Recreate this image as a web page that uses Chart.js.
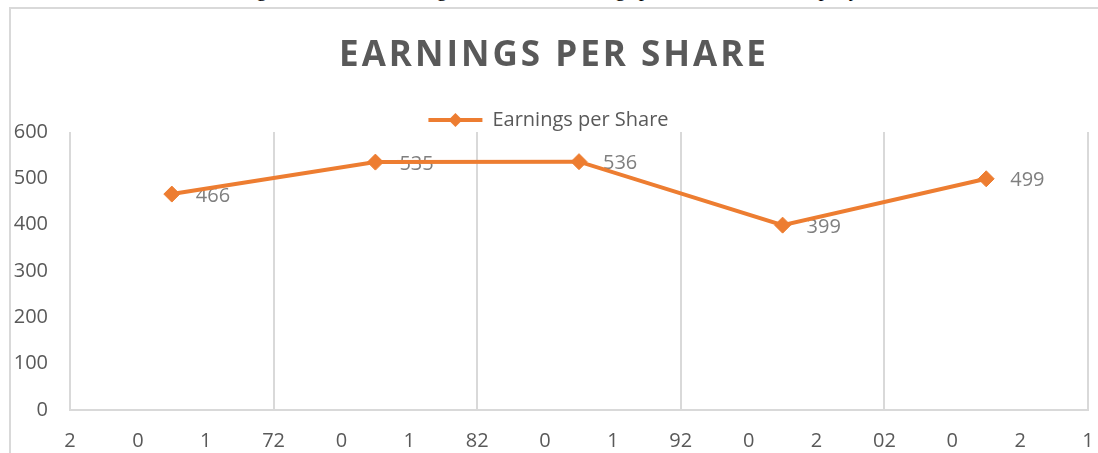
<!DOCTYPE html>
<html>
<head>
<meta charset="utf-8">
<script src="https://cdn.jsdelivr.net/npm/chart.js@4.4.1/dist/chart.umd.min.js"></script>
<style>
  html, body { margin: 0; padding: 0; background: #fff; overflow: hidden; }
  #wrap { position: relative; width: 1098px; height: 453px; }
  #caption { position: absolute; top: -23px; left: 0; width: 1098px; text-align: center;
             font-family: "Liberation Serif", serif; font-size: 21px; color: #000; }
  #frame { position: absolute; left: 9px; top: 7px; right: 0; bottom: 0;
           border-left: 2px solid #d9d9d9; border-top: 2px solid #d9d9d9; background: #fff; }
  canvas { position: absolute; left: 0; top: 0; }
</style>
</head>
<body>
<div id="wrap">
  <div id="caption">Figure 4: Chart Showing the Trend in Earnings per Share of the Company</div>
  <div id="frame"></div>
  <canvas id="chartEps" width="1098" height="453"></canvas>
</div>
<script>
// chart data
const years = ['2017', '2018', '2019', '2020', '2021'];
const eps = [466, 535, 536, 399, 499];
// the x axis labels as they appear (year digits spread over the ticks)
const tickLabels = ['2', '0', '1', '72', '0', '1', '82', '0', '1', '92', '0', '2', '02', '0', '2', '1'];
const yTicks = [0, 100, 200, 300, 400, 500, 600];

const orange = '#ED7D31';
const grey = '#595959';
const font = '"Open Sans", sans-serif';

// each year takes 3 tick steps, point sits in the middle
const points = eps.map((v, i) => ({ x: i * 3 + 1.5, y: v, year: years[i] }));

const ctxEps = document.getElementById('chartEps').getContext('2d');

const epsPlugin = {
  id: 'epsExtras',
  beforeDatasetsDraw(chart) {
    // value labels, under the line like in Excel
    const ctx = chart.ctx;
    const meta = chart.getDatasetMeta(0);
    ctx.save();
    ctx.font = '20px ' + font;
    ctx.fillStyle = '#7f7f7f';
    ctx.textAlign = 'left';
    ctx.textBaseline = 'middle';
    meta.data.forEach((pt, i) => {
      ctx.fillText(String(eps[i]), pt.x + 24, pt.y + 2);
    });
    ctx.restore();
  },
  afterDraw(chart) {
    const ctx = chart.ctx;
    ctx.save();
    // title with letter spacing
    ctx.font = 'bold 35px ' + font;
    ctx.fillStyle = grey;
    ctx.textAlign = 'center';
    ctx.textBaseline = 'alphabetic';
    ctx.letterSpacing = '3px';
    ctx.fillText('EARNINGS PER SHARE', 554, 66);
    ctx.letterSpacing = '0px';
    // diamond on the legend line
    const box = chart.legend.legendHitBoxes[0];
    if (box) {
      const cx = box.left + 27;
      const cy = box.top + box.height / 2;
      ctx.fillStyle = orange;
      ctx.beginPath();
      ctx.moveTo(cx, cy - 7);
      ctx.lineTo(cx + 7, cy);
      ctx.lineTo(cx, cy + 7);
      ctx.lineTo(cx - 7, cy);
      ctx.closePath();
      ctx.fill();
    }
    ctx.restore();
  }
};

new Chart(ctxEps, {
  type: 'line',
  data: {
    datasets: [{
      label: 'Earnings per Share',
      data: points,
      borderColor: orange,
      backgroundColor: orange,
      borderWidth: 4,
      pointStyle: 'rectRot',
      pointRadius: 8,
      pointHoverRadius: 8,
      pointBackgroundColor: orange,
      pointBorderColor: orange,
      pointBorderWidth: 1,
      tension: 0
    }]
  },
  options: {
    responsive: false,
    animation: false,
    layout: { padding: { top: 100, left: 9, right: 10, bottom: 0 } },
    plugins: {
      title: { display: false },
      tooltip: { enabled: false },
      legend: {
        display: true,
        position: 'top',
        maxHeight: 32,
        labels: {
          usePointStyle: true,
          pointStyle: 'line',
          pointStyleWidth: 54,
          padding: 10,
          color: grey,
          font: { family: font, size: 20 },
          generateLabels(chart) {
            const items = Chart.defaults.plugins.legend.labels.generateLabels(chart);
            items.forEach(it => { it.lineWidth = 4; it.strokeStyle = orange; });
            return items;
          }
        }
      }
    },
    scales: {
      x: {
        type: 'linear',
        min: 0,
        max: tickLabels.length - 1,
        afterBuildTicks(scale) {
          scale.ticks = tickLabels.map((_, i) => ({ value: i }));
        },
        afterFit(scale) {
          scale.height = 43;
          scale.paddingLeft = 0;
          scale.paddingRight = 0;
        },
        ticks: {
          autoSkip: false,
          maxRotation: 0,
          padding: 19,
          color: grey,
          font: { family: font, size: 20 },
          callback: (v, i) => tickLabels[i]
        },
        grid: {
          drawTicks: false,
          lineWidth: 2,
          color: (c) => (c.tick && c.tick.value % 3 === 0) ? '#d9d9d9' : 'rgba(0,0,0,0)'
        },
        border: { display: true, color: '#d9d9d9', width: 2 }
      },
      y: {
        min: 0,
        max: 600,
        afterBuildTicks(scale) {
          scale.ticks = yTicks.map(v => ({ value: v }));
        },
        afterFit(scale) { scale.width = 61; },
        ticks: {
          padding: 22,
          color: grey,
          font: { family: font, size: 20 }
        },
        grid: { display: false, drawTicks: false },
        border: { display: false }
      }
    }
  },
  plugins: [epsPlugin]
});
</script>
</body>
</html>
